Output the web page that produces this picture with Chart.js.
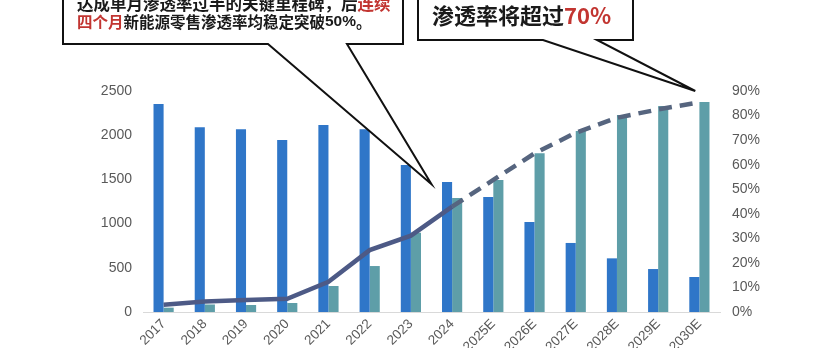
<!DOCTYPE html>
<html>
<head>
<meta charset="utf-8">
<script src="https://cdn.jsdelivr.net/npm/chart.js@4"></script>
<style>
  html, body { margin: 0; padding: 0; background: #fff; }
  #wrap { width: 816px; height: 348px; }
</style>
</head>
<body>
<div id="wrap"><canvas id="penChart" width="816" height="348"></canvas></div>
<script>
// 年份
const years = ['2017', '2018', '2019', '2020', '2021', '2022', '2023', '2024', '2025E', '2026E', '2027E', '2028E', '2029E', '2030E'];
// 燃油车销量（左轴）
const iceSales = [2353, 2089, 2066, 1946, 2115, 2066, 1663, 1471, 1301, 1018, 781, 607, 486, 396];
// 新能源车销量（左轴）
const nevSales = [49, 85, 79, 102, 294, 520, 897, 1290, 1493, 1795, 2048, 2229, 2330, 2376];
// 渗透率 %（右轴）
const penRate = [3.0, 4.3, 4.9, 5.4, 12.3, 25.2, 31.1, 42.9, 53.8, 64.6, 73.0, 79.1, 82.5, 85.4];
// 刻度
const leftTicks = [0, 500, 1000, 1500, 2000, 2500];
const rightTicks = [0, 10, 20, 30, 40, 50, 60, 70, 80, 90];

const firstForecast = 7; // 2024 之后为预测，虚线

const cjkBold = px => 'bold ' + px + 'px "Noto Sans CJK SC", sans-serif';
const latinBold = px => 'bold ' + px + 'px "Liberation Sans", Arial, sans-serif';

// 画两个对话框
const calloutPlugin = {
    id: 'callouts',
    afterDatasetsDraw(chart) {
        const c = chart.ctx;
        const x = chart.scales.x;
        const yR = chart.scales.yR;

        function box(left, right, bottom, baseL, baseR, tipX, tipY) {
            c.save();
            c.beginPath();
            c.moveTo(left, -20);
            c.lineTo(left, bottom);
            c.lineTo(baseL, bottom);
            c.lineTo(tipX, tipY);
            c.lineTo(baseR, bottom);
            c.lineTo(right, bottom);
            c.lineTo(right, -20);
            c.closePath();
            c.fillStyle = '#fff';
            c.fill();
            c.lineWidth = 2;
            c.strokeStyle = '#111';
            c.stroke();
            c.restore();
        }

        // parts: [文字, 颜色, 字体]
        function runs(parts, startX, y) {
            c.save();
            c.textBaseline = 'middle';
            c.textAlign = 'left';
            let px = startX;
            parts.forEach(p => {
                c.font = p[2];
                c.fillStyle = p[1];
                c.fillText(p[0], px, y);
                px += c.measureText(p[0]).width;
            });
            c.restore();
        }

        // 左框
        box(63, 403, 44, 268, 347, x.getPixelForValue(6.5), yR.getPixelForValue(52));
        runs([['达成单月渗透率过半的关键里程碑，后', '#1a1a1a', cjkBold(16.5)],
              ['连续', '#c23531', cjkBold(16.5)]], 77, 4);
        runs([['四个月', '#c23531', cjkBold(15.5)],
              ['新能源零售渗透率均稳定突破', '#1a1a1a', cjkBold(15.5)],
              ['50%', '#1a1a1a', latinBold(15.5)],
              ['。', '#1a1a1a', cjkBold(15.5)]], 77, 22);

        // 右框
        box(418, 633, 40, 543, 597, x.getPixelForValue(12.9), yR.getPixelForValue(90));
        runs([['渗透率将超过', '#1a1a1a', cjkBold(22)], ['70%', '#c23531', cjkBold(22)]], 432, 16);
    }
};

const tickFont = { family: '"Liberation Sans", Arial, sans-serif', size: 14 };

new Chart(document.getElementById('penChart').getContext('2d'), {
    type: 'bar',
    data: {
        labels: years,
        datasets: [
            {
                type: 'line',
                label: '渗透率',
                data: penRate,
                yAxisID: 'yR',
                borderColor: '#4d5a86',
                borderWidth: 4.5,
                pointRadius: 0,
                tension: 0,
                order: 0,
                segment: {
                    borderDash: ctx => ctx.p0DataIndex >= firstForecast ? [13, 8] : undefined,
                    borderColor: ctx => ctx.p0DataIndex >= firstForecast ? '#56657f' : undefined
                }
            },
            {
                label: '燃油车销量',
                data: iceSales,
                yAxisID: 'yL',
                backgroundColor: '#2f76c8',
                barPercentage: 1,
                categoryPercentage: 0.49,
                order: 1
            },
            {
                label: '新能源车销量',
                data: nevSales,
                yAxisID: 'yL',
                backgroundColor: '#5e9ea8',
                barPercentage: 1,
                categoryPercentage: 0.49,
                order: 1
            }
        ]
    },
    options: {
        responsive: false,
        animation: false,
        layout: { padding: { top: 91, left: 0, right: 0, bottom: 0 } },
        plugins: {
            legend: { display: false },
            tooltip: { enabled: false }
        },
        scales: {
            x: {
                grid: { display: false, drawTicks: false },
                border: { display: true, color: '#d9d9d9', width: 1 },
                ticks: {
                    color: '#595959',
                    font: { family: '"Liberation Sans", Arial, sans-serif', size: 13.5 },
                    maxRotation: 45,
                    minRotation: 45,
                    padding: 4,
                    autoSkip: false
                },
                afterFit(scale) { scale.height = 36; }
            },
            yL: {
                position: 'left',
                min: 0,
                max: 2500,
                grid: { display: false, drawTicks: false },
                border: { display: false },
                afterBuildTicks(scale) { scale.ticks = leftTicks.map(v => ({ value: v })); },
                ticks: { color: '#595959', font: tickFont, padding: 11, callback: v => String(v) },
                afterFit(scale) { scale.width = 143; }
            },
            yR: {
                position: 'right',
                min: 0,
                max: 90,
                grid: { display: false, drawTicks: false },
                border: { display: false },
                afterBuildTicks(scale) { scale.ticks = rightTicks.map(v => ({ value: v })); },
                ticks: {
                    color: '#595959',
                    font: tickFont,
                    padding: 12,
                    callback: v => v + '%'
                },
                afterFit(scale) { scale.width = 96; }
            }
        }
    },
    plugins: [calloutPlugin]
});
</script>
</body>
</html>
